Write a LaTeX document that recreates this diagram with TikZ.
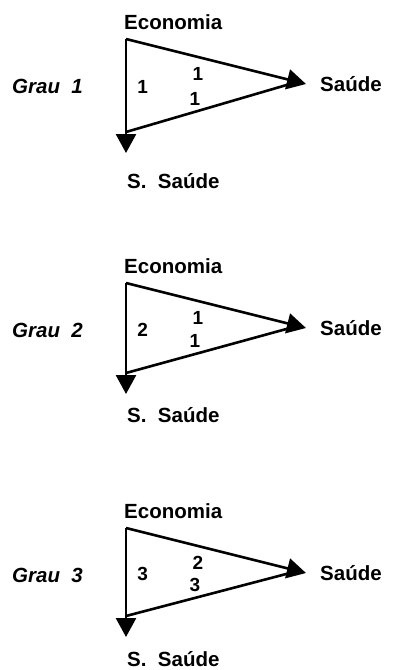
\documentclass[tikz,border=0pt]{standalone}
\usepackage{fontspec}
\setmainfont{Liberation Sans}
\usepackage{tikz}
\usetikzlibrary{arrows.meta}
\usetikzlibrary{positioning}

\begin{document}
\begin{tikzpicture}[x=1pt,y=-1pt,
        every node/.style={font=\fontsize{20.5pt}{24pt}\selectfont\bfseries, inner sep=0pt},
        grau/.style={font=\fontsize{20.5pt}{24pt}\selectfont\bfseries\itshape, anchor=west},
        peso/.style={font=\fontsize{19pt}{22pt}\selectfont\bfseries},
        seta/.style={line width=2.6pt, -{Triangle[length=19pt,width=20pt]}},
        linha/.style={line width=2.6pt}]
    \fill[white] (0,0) rectangle (392,670);
    \useasboundingbox (0,0) rectangle (392,670);

    \foreach \g/\y/\h/\s/\l/\t/\b in {1/39/94/142/1/1/1, 2/283/91/132/2/1/1, 3/528/89/131/3/2/3}{
        % vertices of the triangle
        \coordinate (eco\g) at (126,\y);
        \coordinate (sau\g) at (306,\y+45);
        \coordinate (base\g) at (290,\y+45);
        \coordinate (ssb\g) at (126,\y+\h-1);
        \coordinate (ss\g) at (126,\y+\h+20);

        \node[anchor=west] (economia\g) at (124,\y-17) {Economia};
        \node[right=14pt of sau\g, anchor=west] (saude\g) {Saúde};
        \node[anchor=west] (ssaude\g) at (127,\y+\s) {S.~~Saúde};
        \node[grau] (grau\g) at (12,\y+47) {Grau~~\g};

        \draw[seta] (eco\g) -- node[peso, pos=0.4, below=9pt] (pt\g) {\t} (sau\g);
        \draw[seta] (eco\g) -- node[peso, pos=0.42, right=10pt] (pl\g) {\l} (ss\g);
        \draw[linha] (ssb\g) -- node[peso, pos=0.42, above=5pt] (pb\g) {\b} (base\g);
    }
\end{tikzpicture}
\end{document}
